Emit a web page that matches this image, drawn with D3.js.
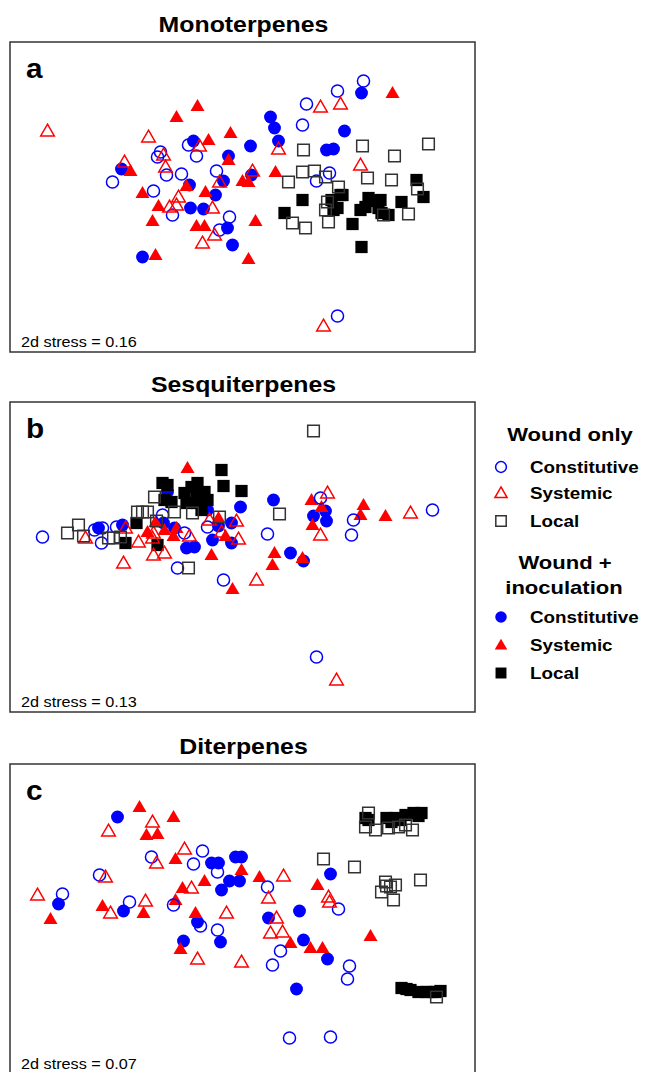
<!DOCTYPE html>
<html>
<head>
<meta charset="utf-8">
<script src="https://cdn.jsdelivr.net/npm/d3@7"></script>
<style>
  body { margin: 0; background: #fff; }
  text { font-family: "Liberation Sans", Arial, sans-serif; }
</style>
</head>
<body>
<svg id="chart"></svg>
<script>
// NMDS scores, [axis1, axis2]
// a - Monoterpenes
var monoWoundConst = [[-1.30,0.15],[-0.89,0.06],[-0.82,0.45],[-0.85,0.40],[-0.76,0.22],[-0.61,0.23],[-0.54,0.52],[-0.46,0.41],[-0.26,0.26],[-0.70,-0.18],[-0.13,-0.20],[-0.23,-0.33],[1.21,1.16],[0.95,1.06],[0.64,0.93],[0.60,0.72],[0.87,0.24],[0.74,0.16],[0.95,-1.19]];
var monoWoundSyst = [[-1.95,0.66],[-0.94,0.60],[-1.18,0.35],[-0.79,0.42],[-0.77,0.30],[-0.43,0.51],[-0.64,0.00],[-0.73,-0.10],[-0.66,-0.08],[-0.30,-0.11],[-0.23,0.15],[-0.28,-0.38],[-0.40,-0.46],[0.78,0.90],[0.98,0.93],[0.36,0.48],[1.18,0.32],[0.10,0.26],[0.81,-1.29]];
var monoWoundLocal = [[0.61,0.47],[1.20,0.51],[1.52,0.41],[1.86,0.53],[0.46,0.15],[0.60,0.25],[0.72,0.26],[0.83,0.20],[1.25,0.19],[1.49,0.17],[1.75,0.08],[0.96,0.10],[0.85,-0.05],[0.83,-0.13],[1.66,-0.17],[1.41,-0.18],[0.50,-0.26],[0.63,-0.31],[0.86,-0.25]];
var monoInocConst = [[-1.21,0.28],[-0.49,0.56],[-0.14,0.41],[-0.53,0.12],[-0.27,0.02],[-0.19,0.16],[-0.52,-0.11],[-0.39,-0.12],[-0.15,-0.31],[-0.10,-0.48],[-1.00,-0.60],[0.08,0.51],[1.19,1.04],[0.28,0.80],[0.32,0.69],[0.36,0.56],[1.02,0.66],[0.84,0.47],[0.91,0.48],[0.09,0.22]];
var monoInocSyst = [[-0.45,0.91],[-0.66,0.80],[-0.34,0.57],[-0.12,0.64],[-0.14,0.37],[-1.12,0.26],[-1.00,0.04],[-0.84,-0.09],[-0.90,-0.24],[-0.56,0.11],[-0.37,0.05],[0.00,0.16],[0.06,0.15],[-0.46,-0.29],[-0.38,-0.29],[-0.87,-0.58],[0.06,-0.62],[1.50,1.04],[0.33,0.25],[0.13,-0.24]];
var monoInocLocal = [[0.60,-0.03],[0.42,-0.16],[0.98,0.02],[0.89,-0.03],[0.91,-0.13],[1.00,0.02],[1.26,-0.01],[1.38,-0.03],[1.18,-0.13],[1.23,-0.10],[1.36,-0.11],[1.46,-0.18],[1.39,-0.16],[1.31,-0.04],[1.59,-0.05],[1.74,0.17],[1.81,0.00],[1.10,-0.27],[1.19,-0.50],[0.95,-0.11]];

// b - Sesquiterpenes
var sesqWoundConst = [[-2.00,0.20],[-1.48,0.27],[-1.40,0.29],[-1.41,0.14],[-1.26,0.30],[-0.80,0.42],[-0.35,0.30],[-0.65,-0.11],[-0.19,-0.23],[0.78,0.59],[0.25,0.23],[1.11,0.37],[1.09,0.22],[1.90,0.47],[0.74,-1.00],[-0.58,0.24]];
var sesqWoundSyst = [[-1.57,0.19],[-1.17,0.29],[-1.19,-0.06],[-1.04,0.15],[-0.89,0.24],[-0.90,0.19],[-0.89,0.02],[-0.78,0.04],[-0.53,0.21],[-0.33,0.37],[-0.21,0.25],[-0.06,0.36],[-0.04,0.18],[0.85,0.64],[0.78,0.22],[1.68,0.44],[0.14,-0.23],[0.94,-1.23]];
var sesqWoundLocal = [[-1.75,0.24],[-1.64,0.32],[-1.59,0.21],[-1.34,0.19],[-1.29,0.19],[-1.22,0.20],[-1.05,0.45],[-1.00,0.45],[-0.95,0.45],[-0.86,0.36],[-0.88,0.60],[-0.68,0.45],[-0.50,0.44],[-0.23,0.40],[-0.54,-0.11],[0.71,1.26],[0.37,0.43]];
var sesqInocConst = [[-1.44,0.29],[-1.20,0.32],[-0.79,0.34],[-0.75,0.65],[-0.68,0.29],[-0.56,0.09],[-0.48,0.10],[-0.02,0.50],[-0.11,0.34],[-0.24,0.31],[-0.30,0.17],[-0.11,0.14],[-0.35,0.47],[0.31,0.57],[0.71,0.41],[0.83,0.46],[0.84,0.36],[0.48,0.04],[0.61,-0.04]];
var sesqInocSyst = [[-0.95,0.25],[-0.87,0.35],[-0.78,0.27],[-0.66,0.29],[-0.69,0.21],[-0.55,0.89],[-0.24,0.39],[-0.17,0.21],[-0.31,0.02],[-0.10,-0.32],[0.69,0.57],[0.79,0.50],[0.70,0.32],[1.21,0.52],[1.18,0.42],[1.43,0.41],[0.32,0.04],[0.30,-0.08],[0.60,-0.01]];
var sesqInocLocal = [[-1.17,0.14],[-1.06,0.34],[-0.85,0.12],[-0.80,0.74],[-0.75,0.72],[-0.21,0.87],[-0.19,0.71],[-0.01,0.66],[-0.78,0.57],[-0.71,0.55],[-0.58,0.64],[-0.51,0.70],[-0.45,0.74],[-0.46,0.64],[-0.38,0.65],[-0.56,0.54],[-0.45,0.54],[-0.35,0.57],[-0.41,0.47]];

// c - Diterpenes
var diWoundConst = [[-0.40,0.68],[-0.91,0.62],[-0.49,0.55],[-0.25,0.47],[-1.43,0.44],[-1.80,0.25],[-1.13,0.17],[-0.69,0.14],[-0.42,-0.07],[-0.25,-0.11],[0.25,0.32],[0.96,0.10],[0.38,-0.32],[0.30,-0.46],[1.07,-0.47],[1.05,-0.60],[0.47,-1.19],[0.88,-1.18]];
var diWoundSyst = [[-0.90,0.97],[-1.34,0.88],[-0.58,0.70],[-0.86,0.56],[-1.37,0.42],[-0.51,0.31],[-2.05,0.24],[-1.32,0.06],[-0.97,0.18],[-0.16,0.06],[-0.45,-0.40],[-0.01,-0.43],[0.41,0.43],[0.26,0.21],[0.86,0.22],[0.87,0.17],[0.34,0.01],[0.28,-0.14],[0.40,-0.13]];
var diWoundLocal = [[1.26,1.06],[1.23,0.92],[1.33,0.89],[1.46,0.91],[1.56,0.92],[1.63,0.94],[0.81,0.60],[1.12,0.52],[1.78,0.39],[1.43,0.37],[1.53,0.34],[1.39,0.27],[1.51,0.19],[1.44,0.33],[1.48,0.32],[1.94,-0.78],[1.70,0.89]];
var diInocConst = [[-1.25,1.02],[-0.31,0.56],[-0.24,0.56],[-0.07,0.62],[-0.01,0.62],[-0.13,0.38],[-0.03,0.38],[-0.21,0.29],[-1.84,0.15],[-1.19,0.08],[-0.45,-0.03],[-0.22,-0.23],[-0.59,-0.22],[0.88,0.45],[0.57,0.08],[0.26,0.01],[0.61,-0.21],[0.85,-0.40],[0.54,-0.70]];
var diInocSyst = [[-1.03,1.12],[-0.69,1.02],[-0.96,0.84],[-0.85,0.85],[-0.67,0.60],[-0.01,0.49],[-0.38,0.38],[-0.60,0.31],[-1.92,0.00],[-1.40,0.13],[-0.99,0.06],[-0.67,0.19],[-0.47,0.06],[-0.62,-0.30],[0.17,0.42],[0.75,0.34],[0.48,-0.24],[0.68,-0.29],[0.80,-0.29],[1.28,-0.17]];
var diInocLocal = [[1.23,1.01],[1.26,0.99],[1.44,1.01],[1.49,0.97],[1.53,1.01],[1.58,0.99],[1.63,1.04],[1.71,1.06],[1.79,1.06],[1.76,1.03],[1.59,-0.69],[1.68,-0.71],[1.76,-0.73],[1.84,-0.73],[1.93,-0.73],[1.98,-0.72],[1.64,-0.70],[1.89,-0.73]];

var titles = ["Monoterpenes", "Sesquiterpenes", "Diterpenes"];
var letters = ["a", "b", "c"];
var stress = ["0.16", "0.13", "0.07"];

var groupNames = ["Constitutive", "Systemic", "Local"];

var blue = "#0000ff", red = "#ff0000", black = "#000";
// marker styles: draw order filled first, open on top
var markers = [
  { key: "inocConst", shape: d3.symbolCircle, size: 130, fill: blue, stroke: "none" },
  { key: "inocSyst", shape: d3.symbolTriangle, size: 85, fill: red, stroke: "none" },
  { key: "inocLocal", shape: d3.symbolSquare, size: 150, fill: black, stroke: "none" },
  { key: "woundConst", shape: d3.symbolCircle, size: 115, fill: "none", stroke: blue },
  { key: "woundSyst", shape: d3.symbolTriangle, size: 80, fill: "none", stroke: red },
  { key: "woundLocal", shape: d3.symbolSquare, size: 135, fill: "none", stroke: "#333" }
];

var panelData = [
  { woundConst: monoWoundConst, woundSyst: monoWoundSyst, woundLocal: monoWoundLocal, inocConst: monoInocConst, inocSyst: monoInocSyst, inocLocal: monoInocLocal },
  { woundConst: sesqWoundConst, woundSyst: sesqWoundSyst, woundLocal: sesqWoundLocal, inocConst: sesqInocConst, inocSyst: sesqInocSyst, inocLocal: sesqInocLocal },
  { woundConst: diWoundConst, woundSyst: diWoundSyst, woundLocal: diWoundLocal, inocConst: diInocConst, inocSyst: diInocSyst, inocLocal: diInocLocal }
];

var W = 646, H = 1072;
var left = 10, pw = 465, ph = 310;
var tops = [42, 402, 764];
var stretch = 1.13; // the original figure's lettering is a bit wider than Arial

var svg = d3.select("#chart").attr("width", W).attr("height", H);

var x = d3.scaleLinear().domain([-2.325, 2.325]).range([0, pw]);
var y = d3.scaleLinear().domain([-1.55, 1.55]).range([ph, 0]);

//text helper, stretched horizontally around its anchor
function label(parent, px, py, str, size, bold, anchor, sx) {
  return parent.append("text")
    .attr("transform", "translate(" + px + "," + py + ") scale(" + (sx || stretch) + ",1)")
    .attr("text-anchor", anchor || "start")
    .style("font-weight", bold ? "bold" : "normal")
    .style("font-size", size + "px")
    .text(str);
}

panelData.forEach(function (pd, i) {
  var g = svg.append("g").attr("transform", "translate(" + left + "," + tops[i] + ")");

  label(svg, left + pw / 2 + 1, tops[i] - 10, titles[i], 22, true, "middle");

  markers.forEach(function (m) {
    var sym = d3.symbol().type(m.shape).size(m.size);
    g.append("g").selectAll("path")
      .data(pd[m.key])
      .enter().append("path")
      .attr("d", sym)
      .attr("transform", function (d) {
        // triangle centroid sits low, nudge so it looks centred like the original
        var dy = m.shape === d3.symbolTriangle ? 1 : 0;
        return "translate(" + x(d[0]) + "," + (y(d[1]) + dy) + ")";
      })
      .style("fill", m.fill)
      .style("stroke", m.stroke)
      .style("stroke-width", 1.5);
  });

  g.append("rect")
    .attr("width", pw).attr("height", ph)
    .style("fill", "none").style("stroke", "#333").style("stroke-width", 1.5);

  label(g, 16, 36, letters[i], 27, true, "start", 1.1);
  label(g, 11, ph - 5, "2d stress = " + stress[i], 14.5, false, "start", 1.12);
});

// legend
var leg = svg.append("g");
var legCx = 570, markX = 501, labelX = 530;

label(leg, legCx, 441, "Wound only", 19, true, "middle", 1.16);
label(leg, legCx - 5, 569, "Wound +", 19, true, "middle", 1.16);
label(leg, legCx - 6, 594, "inoculation", 19, true, "middle", 1.16);

var legRows = [
  { m: markers[3], label: groupNames[0], cy: 467 },
  { m: markers[4], label: groupNames[1], cy: 493 },
  { m: markers[5], label: groupNames[2], cy: 521 },
  { m: markers[0], label: groupNames[0], cy: 617 },
  { m: markers[1], label: groupNames[1], cy: 645 },
  { m: markers[2], label: groupNames[2], cy: 673 }
];

legRows.forEach(function (r) {
  var dy = r.m.shape === d3.symbolTriangle ? 1 : 0;
  leg.append("path")
    .attr("d", d3.symbol().type(r.m.shape).size(r.m.size * 0.8))
    .attr("transform", "translate(" + markX + "," + (r.cy + dy) + ")")
    .style("fill", r.m.fill).style("stroke", r.m.stroke).style("stroke-width", 1.5);
  label(leg, labelX, r.cy + 6, r.label, 16.5, true, "start", 1.14);
});
</script>
</body>
</html>
